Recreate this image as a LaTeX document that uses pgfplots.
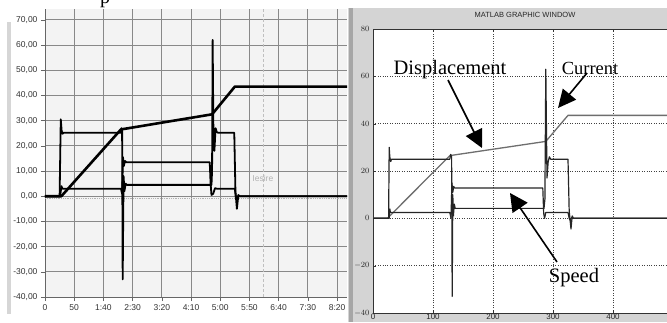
\documentclass[border=0pt]{standalone}
\usepackage{pgfplots}
\pgfplotsset{compat=1.18}
\usepackage{fontspec}
\setmainfont{Liberation Serif}
\setsansfont{Liberation Sans}
\usetikzlibrary{arrows.meta}
\definecolor{lvbg}{HTML}{F3F3F3}
\definecolor{lvgrid}{HTML}{888888}
\definecolor{winbg}{HTML}{D4D4D4}
\definecolor{dispgray}{HTML}{6E6E6E}
\begin{document}
\begin{tikzpicture}[x=1pt,y=1pt]
\fill[white] (0,0) rectangle (667,322);
% left panel strip
\fill[black!16] (7,8) rectangle (11,300);
% right window background
\fill[winbg] (348,0) rectangle (667,314);
\fill[black!35] (349,0) rectangle (353,314);
% partial caption glyph
\node[anchor=base,inner sep=0pt] at (105,318.5) {\fontsize{20}{20}\selectfont p};
% ---------------- LEFT (LabVIEW) ----------------
\begin{axis}[
  at={(45pt,25pt)}, anchor=south west, scale only axis,
  width=302pt, height=288pt,
  xmin=0, xmax=517, ymin=-40, ymax=74.3,
  axis background/.style={fill=lvbg},
  xtick={0,50,...,500},
  xticklabels={0,50,1:40,2:30,3:20,4:10,5:00,5:50,6:40,7:30,8:20},
  ytick={-40,-30,...,70},
  yticklabel style={/pgf/number format/.cd,fixed,fixed zerofill,precision=2,use comma,assume math mode=true},
  ticklabel style={font=\sffamily\fontsize{8.5}{9}\selectfont, text=black!80},
  grid=major, major grid style={draw=lvgrid, line width=0.8pt},
  axis x line*=bottom, axis y line*=left,
  axis line style={-, draw=black!60, line width=0.6pt},
  tick align=outside, major tick length=4pt,
  tick style={draw=black!60, line width=0.6pt},
  clip=true,
]
\addplot[draw=black!25, densely dashed, line width=0.6pt] coordinates {(373,-40)(373,74.3)};
\addplot[draw=black!30, densely dotted, line width=0.8pt] coordinates {(0,-0.9)(517,-0.9)};
\node[text=black!30, font=\sffamily\fontsize{8.5}{9}\selectfont] at (axis cs:373,7) {Iesire};
% displacement
\addplot[black, line width=2.6pt, line join=round] coordinates {(0,0)(28,0)(130,26.5)(286,32.5)(325,43.5)(517,43.5)};
% current
\addplot[black, line width=1.8pt, line join=round] coordinates {(0,0)(25,0)(27,30.5)(28.5,26)(30,24.8)(32,25.2)(130,25.2)(131,27)(132,26)(133,-33)(134.5,8)(136,2)(138,5)(140,4.5)(285,4.5)(286,10)(287,62)(288.5,20)(290,18)(292,27)(294,25.5)(296,25.2)(324,25.2)(326,2)(328.5,-5)(331,0.5)(333,0)(517,0)};
% speed
\addplot[black, line width=1.8pt, line join=round] coordinates {(0,0)(26,0)(28,4)(30,3)(130,3)(132,1)(133.5,15.5)(135,12)(137,14)(139,13.5)(282,13.5)(283.5,5)(285,0.5)(288,1)(291,3.2)(294,3)(325,3)(327,-1)(330,0)(517,0)};
\end{axis}
% ---------------- RIGHT (MATLAB) ----------------
\node[font=\sffamily\fontsize{7.5}{8}\selectfont, text=black!85] at (525,307) {MATLAB GRAPHIC WINDOW};
\begin{axis}[
  at={(373pt,9pt)}, anchor=south west, scale only axis,
  width=300pt, height=284pt,
  xmin=0, xmax=500, ymin=-40, ymax=80,
  axis background/.style={fill=white},
  xtick={0,100,...,500}, ytick={-40,-20,...,80},
  xticklabels={0,100,200,300,400,{}},
  ticklabel style={font=\sffamily\fontsize{8}{8.5}\selectfont, text=black!85},
  xticklabel style={inner sep=1pt},
  grid=major, major grid style={draw=black!75, line width=0.6pt, dash pattern=on 1pt off 1.4pt},
  axis line style={draw=black!80, line width=0.6pt},
  tick align=inside, major tick length=3pt,
  tick style={draw=black!80},
  clip=true,
]
% displacement
\addplot[dispgray, line width=1.3pt, line join=round] coordinates {(0,0)(24,0)(128,26.5)(288,32.5)(325,43.5)(500,43.5)};
% current
\addplot[black!85, line width=1.2pt, line join=round] coordinates {(0,0)(26,0)(27,30)(28,26)(29.5,24)(31,25)(128,25)(129.5,27)(131,26)(132,-33)(133,10)(134,1)(135.5,6)(137,4.2)(285,4.2)(286.5,8)(288,63)(290,17)(292,24)(294,26)(296,25)(325,25)(327,3)(330,-4.5)(332,1)(334,0)(500,0)};
% speed
\addplot[black!85, line width=1.2pt, line join=round] coordinates {(0,0)(27,0)(28,4)(29,2.5)(128,2.5)(130,0)(131.5,15)(133,11)(134.5,13.5)(136,12.8)(283,12.8)(284.5,2)(286,0)(288,2.5)(325,2.5)(327,0)(329,-1)(331,0.5)(333,0)(500,0)};
\end{axis}
% annotations
\node[font=\fontsize{20.5}{21}\selectfont] at (450,252) {Displacement};
\node[font=\fontsize{18.5}{19}\selectfont] at (590,254) {Current};
\node[font=\fontsize{20.5}{21}\selectfont] at (574,44) {Speed};
\draw[line width=1.6pt, -{Triangle[length=18pt,width=18pt]}] (448,242) -- (482,174);
\draw[line width=1.6pt, -{Triangle[length=18pt,width=17pt]}] (587,249) -- (558,214);
\draw[line width=1.6pt, -{Triangle[length=18pt,width=18pt]}] (557,60) -- (510,129);
\pgfresetboundingbox
\path[use as bounding box] (0,0) rectangle (667,322);
\end{tikzpicture}
\end{document}
